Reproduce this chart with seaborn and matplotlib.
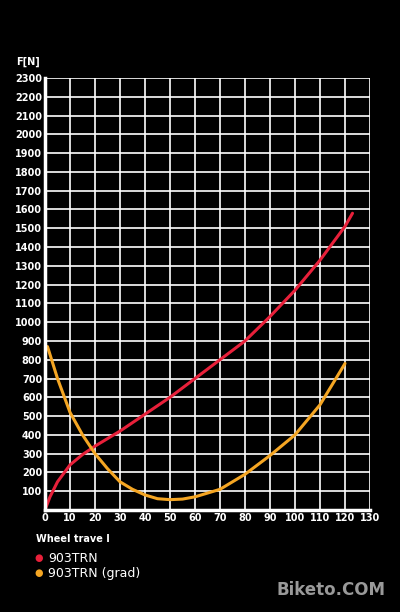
import numpy as np
import seaborn as sns
import matplotlib.pyplot as plt

red_x = [0, 2, 5, 10, 15, 20, 30, 40, 50, 60, 70, 80, 90, 100, 110, 120, 123]
red_y = [0, 70, 150, 240, 295, 340, 420, 510, 600, 700, 800, 900, 1030, 1170, 1330, 1510, 1580]
orange_x = [1, 5, 10, 15, 20, 25, 30, 35, 40, 45, 50, 55, 60, 70, 80, 90, 100, 110, 120]
orange_y = [870, 700, 520, 400, 300, 220, 150, 110, 80, 60, 55, 58, 70, 110, 190, 290, 400, 560, 780]

sns.set_style('dark')
plt.rcParams['font.family'] = ['DejaVu Sans']
fig = plt.figure(figsize=(4, 6.12), dpi=100, facecolor='black')
ax = fig.add_axes([0.1125, 0.1667, 0.8125, 0.7058], facecolor='black')

sns.lineplot(x=red_x, y=red_y, ax=ax, color='#e8203a', linewidth=2.2)
sns.lineplot(x=orange_x, y=orange_y, ax=ax, color='#f5a623', linewidth=2.2)

ax.set_xlim(0, 130)
ax.set_ylim(0, 2300)
ax.set_xticks(np.arange(0, 131, 10))
ax.set_yticks(np.arange(100, 2301, 100))
ax.grid(True, color='white', linewidth=1.2)
ax.set_axisbelow(True)
for s in ['top', 'right']:
    ax.spines[s].set_visible(False)
for s in ['left', 'bottom']:
    ax.spines[s].set_color('white')
    ax.spines[s].set_linewidth(2.5)
ax.tick_params(colors='white', labelsize=7, length=0, pad=2)
for lab in ax.get_xticklabels() + ax.get_yticklabels():
    lab.set_fontweight('bold')

fig.text(0.04, 0.895, 'F[N]', color='white', fontsize=7, fontweight='bold')
fig.text(0.09, 0.115, 'Wheel trave l', color='white', fontsize=7, fontweight='bold')
fig.text(0.085, 0.088, '●', color='#e8203a', fontsize=7, va='center')
fig.text(0.12, 0.088, '903TRN', color='white', fontsize=9, va='center')
fig.text(0.085, 0.063, '●', color='#f5a623', fontsize=7, va='center')
fig.text(0.12, 0.063, '903TRN (grad)', color='white', fontsize=9, va='center')
fig.text(0.69, 0.028, 'Biketo.COM', color='#999999', fontsize=12, fontweight='bold')

fig.savefig('out.png', facecolor='black')
